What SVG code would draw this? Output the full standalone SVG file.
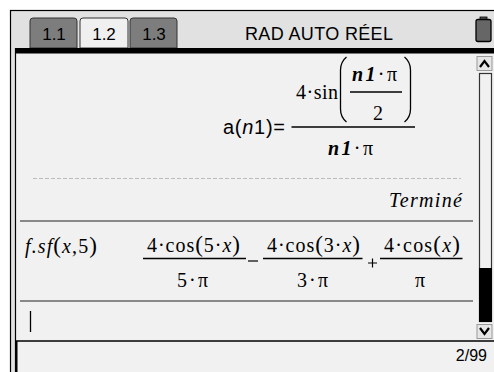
<svg xmlns="http://www.w3.org/2000/svg" width="494" height="372" viewBox="0 0 494 372">
<style>
.sans{font-family:"Liberation Sans",Arial,sans-serif;fill:#000}
.tab{font-family:"Liberation Sans",Arial,sans-serif;font-size:17px;text-anchor:middle;fill:#000}
.m{font-family:"Liberation Serif","Times New Roman",serif;font-size:20px;fill:#000}
.p{font-size:23px}
.bar{stroke:#000;stroke-width:1.3}
</style>
<rect x="0" y="0" width="494" height="372" fill="#fff"/>
<!-- frame -->
<rect x="10.5" y="10.5" width="490" height="370" fill="#e1e1e1" stroke="#000" stroke-width="1.2"/>
<!-- tabs -->
<path d="M30,48 V21 Q30,18 33,18 H74 Q77,18 77,21 V48 Z" fill="#7d7d7d" stroke="#333" stroke-width="1"/>
<path d="M130,48 V21 Q130,18 133,18 H174 Q177,18 177,21 V48 Z" fill="#7d7d7d" stroke="#333" stroke-width="1"/>
<path d="M80,48 V21 Q80,18 83,18 H125 Q128,18 128,21 V48 Z" fill="#f0f0f0" stroke="#333" stroke-width="1"/>
<text class="tab" x="54" y="39.5">1.1</text>
<text class="tab" x="104" y="39.5">1.2</text>
<text class="tab" x="154" y="39.5">1.3</text>
<text class="sans" x="245" y="40" font-size="18" textLength="148" lengthAdjust="spacing">RAD AUTO RÉEL</text>
<!-- battery -->
<rect x="480" y="17" width="7" height="3" fill="#555" stroke="#000" stroke-width="0.8"/>
<rect x="476" y="19.5" width="15" height="22" rx="2" fill="#666" stroke="#000" stroke-width="1.3"/>
<!-- content area -->
<rect x="15" y="48" width="479" height="324" fill="#f0f1f0"/>
<rect x="15" y="48" width="479" height="5.5" fill="#000"/>
<line x1="15.5" y1="48" x2="15.5" y2="372" stroke="#000" stroke-width="1.2"/>
<!-- status bar -->
<line x1="15" y1="341" x2="494" y2="341" stroke="#000" stroke-width="1.5"/>
<rect x="15" y="341" width="2.5" height="31" fill="#000"/>
<text class="sans" x="487" y="361" font-size="16" text-anchor="end">2/99</text>
<!-- scrollbar -->
<rect x="477" y="56.5" width="15" height="14" fill="#e6e6e6" stroke="#999" stroke-width="1"/>
<path d="M480,67 L484.5,61 L489,67" fill="none" stroke="#000" stroke-width="2.2"/>
<rect x="479.5" y="73.5" width="12" height="248" fill="#f0f1f0" stroke="#333" stroke-width="1.2"/>
<rect x="479" y="268" width="13" height="54" fill="#000"/>
<rect x="477" y="324.5" width="15" height="14" fill="#e6e6e6" stroke="#999" stroke-width="1"/>
<path d="M480,328 L484.5,334 L489,328" fill="none" stroke="#000" stroke-width="2.2"/>
<!-- entry 1 -->
<g id="entry1">
<text class="sans" x="223" y="134" font-size="20" textLength="62" lengthAdjust="spacing">a(<tspan font-style="italic">n</tspan>1)=</text>
<line class="bar" x1="291.5" y1="127" x2="415" y2="127"/>
<text class="m" x="296" y="99" textLength="42" lengthAdjust="spacing">4·sin</text>
<path d="M346.5,57 Q340.5,62 340.5,70 V109 Q340.5,117 346.5,122" fill="none" stroke="#000" stroke-width="1.3"/>
<path d="M404.5,57 Q410.5,62 410.5,70 V109 Q410.5,117 404.5,122" fill="none" stroke="#000" stroke-width="1.3"/>
<text class="m" x="352" y="81" textLength="45" lengthAdjust="spacing"><tspan font-weight="bold" font-style="italic">n1</tspan>·π</text>
<line class="bar" x1="350" y1="92" x2="402" y2="92"/>
<text class="m" x="373" y="120">2</text>
<text class="m" x="328" y="155" textLength="45" lengthAdjust="spacing"><tspan font-weight="bold" font-style="italic">n1</tspan>·π</text>
<line x1="33" y1="178.5" x2="461" y2="178.5" stroke="#bbb" stroke-width="1" stroke-dasharray="4,2"/>
<text class="m" x="389" y="207" font-style="italic" textLength="73" lengthAdjust="spacing">Terminé</text>
<line x1="20" y1="221" x2="473" y2="221" stroke="#666" stroke-width="1.3"/>
</g>
<!-- entry 2 -->
<g id="entry2">
<text class="m" x="25" y="253" textLength="72" lengthAdjust="spacing"><tspan font-style="italic">f.sf</tspan><tspan class="p">(</tspan><tspan font-style="italic">x</tspan>,5<tspan class="p">)</tspan></text>
<text class="m" x="147" y="252" textLength="93" lengthAdjust="spacing">4·cos<tspan class="p">(</tspan>5·<tspan font-style="italic">x</tspan><tspan class="p">)</tspan></text>
<line class="bar" x1="143" y1="258.5" x2="246" y2="258.5"/>
<text class="m" x="177" y="287" textLength="31" lengthAdjust="spacing">5·π</text>
<line x1="248" y1="261" x2="258" y2="261" stroke="#000" stroke-width="1.2"/>
<text class="m" x="267" y="252" textLength="93" lengthAdjust="spacing">4·cos<tspan class="p">(</tspan>3·<tspan font-style="italic">x</tspan><tspan class="p">)</tspan></text>
<line class="bar" x1="263" y1="258.5" x2="362.5" y2="258.5"/>
<text class="m" x="297" y="287" textLength="31" lengthAdjust="spacing">3·π</text>
<path d="M368,263 H377 M372.5,258.5 V267.5" stroke="#000" stroke-width="1.2"/>
<text class="m" x="384" y="252" textLength="76" lengthAdjust="spacing">4·cos<tspan class="p">(</tspan><tspan font-style="italic">x</tspan><tspan class="p">)</tspan></text>
<line class="bar" x1="380" y1="258.5" x2="462.5" y2="258.5"/>
<text class="m" x="415" y="287">π</text>
<line x1="20" y1="301" x2="473" y2="301" stroke="#666" stroke-width="1.3"/>
</g>
<line x1="30.5" y1="311" x2="30.5" y2="332" stroke="#000" stroke-width="1.3"/>
</svg>
